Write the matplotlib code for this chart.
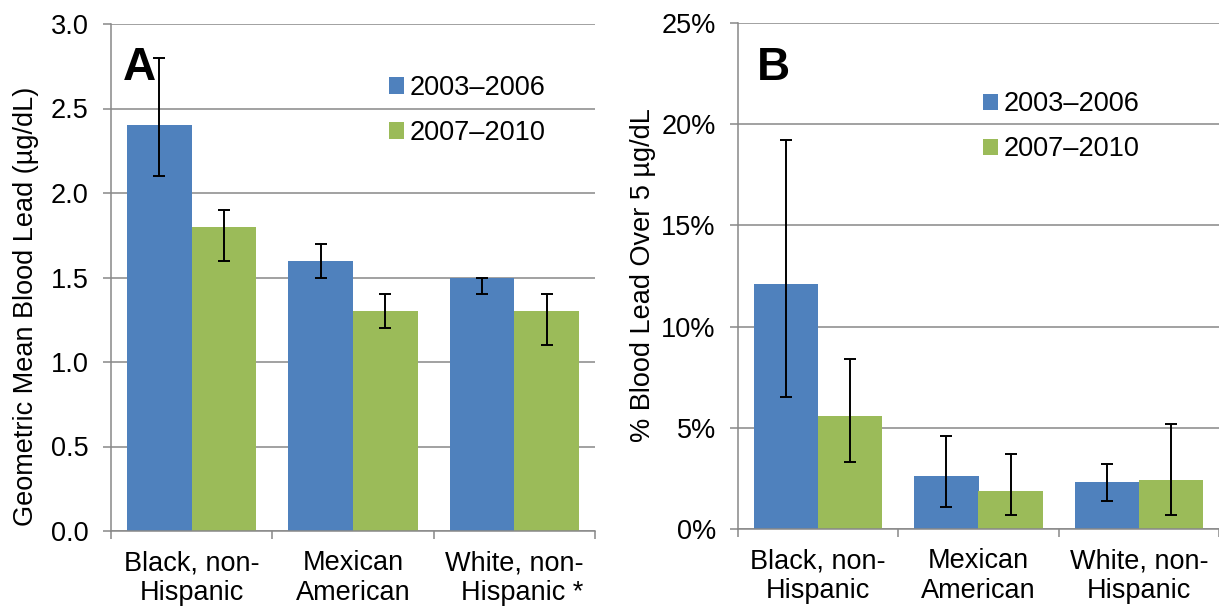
import matplotlib
matplotlib.use("Agg")
import matplotlib.pyplot as plt
import numpy as np
from matplotlib.patches import Patch
from matplotlib.ticker import FixedLocator, FuncFormatter

plt.rcParams['font.family'] = ['Liberation Sans', 'DejaVu Sans']

# Groups and periods (panel A marks the last group with an asterisk)
groups_a = ["Black, non-\nHispanic", "Mexican\nAmerican", "White, non-\n  Hispanic *"]
groups_b = ["Black, non-\nHispanic", "Mexican\nAmerican", "White, non-\nHispanic"]
periods = ["2003\u20132006", "2007\u20132010"]

# Panel A: geometric mean blood lead (µg/dL) with 95% CI
gm_0306 = [2.4, 1.6, 1.5]
gm_0306_lo = [2.1, 1.5, 1.4]
gm_0306_hi = [2.8, 1.7, 1.5]
gm_0710 = [1.8, 1.3, 1.3]
gm_0710_lo = [1.6, 1.2, 1.1]
gm_0710_hi = [1.9, 1.4, 1.4]

# Panel B: percent with blood lead over 5 µg/dL with 95% CI
pct_0306 = [12.1, 2.6, 2.3]
pct_0306_lo = [6.5, 1.1, 1.4]
pct_0306_hi = [19.2, 4.6, 3.2]
pct_0710 = [5.6, 1.9, 2.4]
pct_0710_lo = [3.3, 0.7, 0.7]
pct_0710_hi = [8.4, 3.7, 5.2]

BLUE = "#4F81BD"
GREEN = "#9BBB59"
GRID = "#888888"
FS = 19.5

fig = plt.figure(figsize=(12.19, 6.07), dpi=100)
axA = fig.add_axes([111 / 1219, 1 - 531 / 607, 484 / 1219, 507 / 607])
axB = fig.add_axes([738 / 1219, 1 - 529 / 607, 481 / 1219, 506 / 607])


def draw_panel(ax, labels, s1, lo1, hi1, s2, lo2, hi2, ymax, ystep, fmt):
    x = np.arange(len(labels))
    w = 0.4
    for xs, vals, lo, hi, col in [(x - w / 2, s1, lo1, hi1, BLUE),
                                   (x + w / 2, s2, lo2, hi2, GREEN)]:
        vals = np.array(vals)
        yerr = np.vstack([vals - np.array(lo), np.array(hi) - vals])
        ax.bar(xs, vals, width=w, color=col, zorder=2)
        ax.errorbar(xs, vals, yerr=yerr, fmt='none', ecolor='black',
                    elinewidth=1.4, capsize=4.5, capthick=1.4, zorder=3)
    ax.set_xlim(-0.5, len(labels) - 0.5)
    ax.set_ylim(0, ymax)
    ax.set_yticks(np.arange(0, ymax + ystep / 2, ystep))
    ax.yaxis.set_major_formatter(FuncFormatter(fmt))
    ax.yaxis.grid(True, color=GRID, linewidth=1.1, zorder=0)
    ax.set_axisbelow(True)
    # category boundaries as ticks, names centered between them
    ax.xaxis.set_major_locator(FixedLocator(np.arange(-0.5, len(labels), 1.0)))
    ax.xaxis.set_major_formatter(FuncFormatter(lambda v, p: ""))
    ax.xaxis.set_minor_locator(FixedLocator(x))
    ax.set_xticklabels(labels, minor=True)
    ax.tick_params(axis='x', which='major', length=6, width=1.1, color=GRID)
    ax.tick_params(axis='x', which='minor', length=0, pad=14, labelsize=FS)
    ax.tick_params(axis='y', length=6, width=1.1, color=GRID, pad=10, labelsize=FS)
    for side in ['top', 'right']:
        ax.spines[side].set_visible(False)
    for side in ['left', 'bottom']:
        ax.spines[side].set_color(GRID)
        ax.spines[side].set_linewidth(1.1)
    for lab in ax.get_xticklabels(minor=True):
        lab.set_linespacing(1.2)


draw_panel(axA, groups_a, gm_0306, gm_0306_lo, gm_0306_hi,
           gm_0710, gm_0710_lo, gm_0710_hi,
           3.0, 0.5, lambda v, p: f"{v:.1f}")
draw_panel(axB, groups_b, pct_0306, pct_0306_lo, pct_0306_hi,
           pct_0710, pct_0710_lo, pct_0710_hi,
           25, 5, lambda v, p: f"{v:.0f}%")

axA.set_ylabel("Geometric Mean Blood Lead (\u00b5g/dL)", fontsize=FS)
axA.yaxis.set_label_coords(-0.149, 0.443)
axB.set_ylabel("% Blood Lead Over 5 \u00b5g/dL", fontsize=FS)
axB.yaxis.set_label_coords(-0.170, 0.502)

axA.text(0.025, 0.89, "A", transform=axA.transAxes, fontsize=33,
         fontweight='bold', va='baseline', ha='left')
axB.text(0.04, 0.887, "B", transform=axB.transAxes, fontsize=33,
         fontweight='bold', va='baseline', ha='left')

handles = [Patch(facecolor=BLUE), Patch(facecolor=GREEN)]
for ax, anchor in [(axA, (0.575, 0.899)), (axB, (0.510, 0.865))]:
    ax.legend(handles, periods, loc='upper left', bbox_to_anchor=anchor,
              frameon=False, fontsize=FS, handlelength=0.55, handleheight=0.55,
              handletextpad=0.2, labelspacing=0.7, borderpad=0,
              borderaxespad=0)

fig.savefig("out.png", dpi=100)
